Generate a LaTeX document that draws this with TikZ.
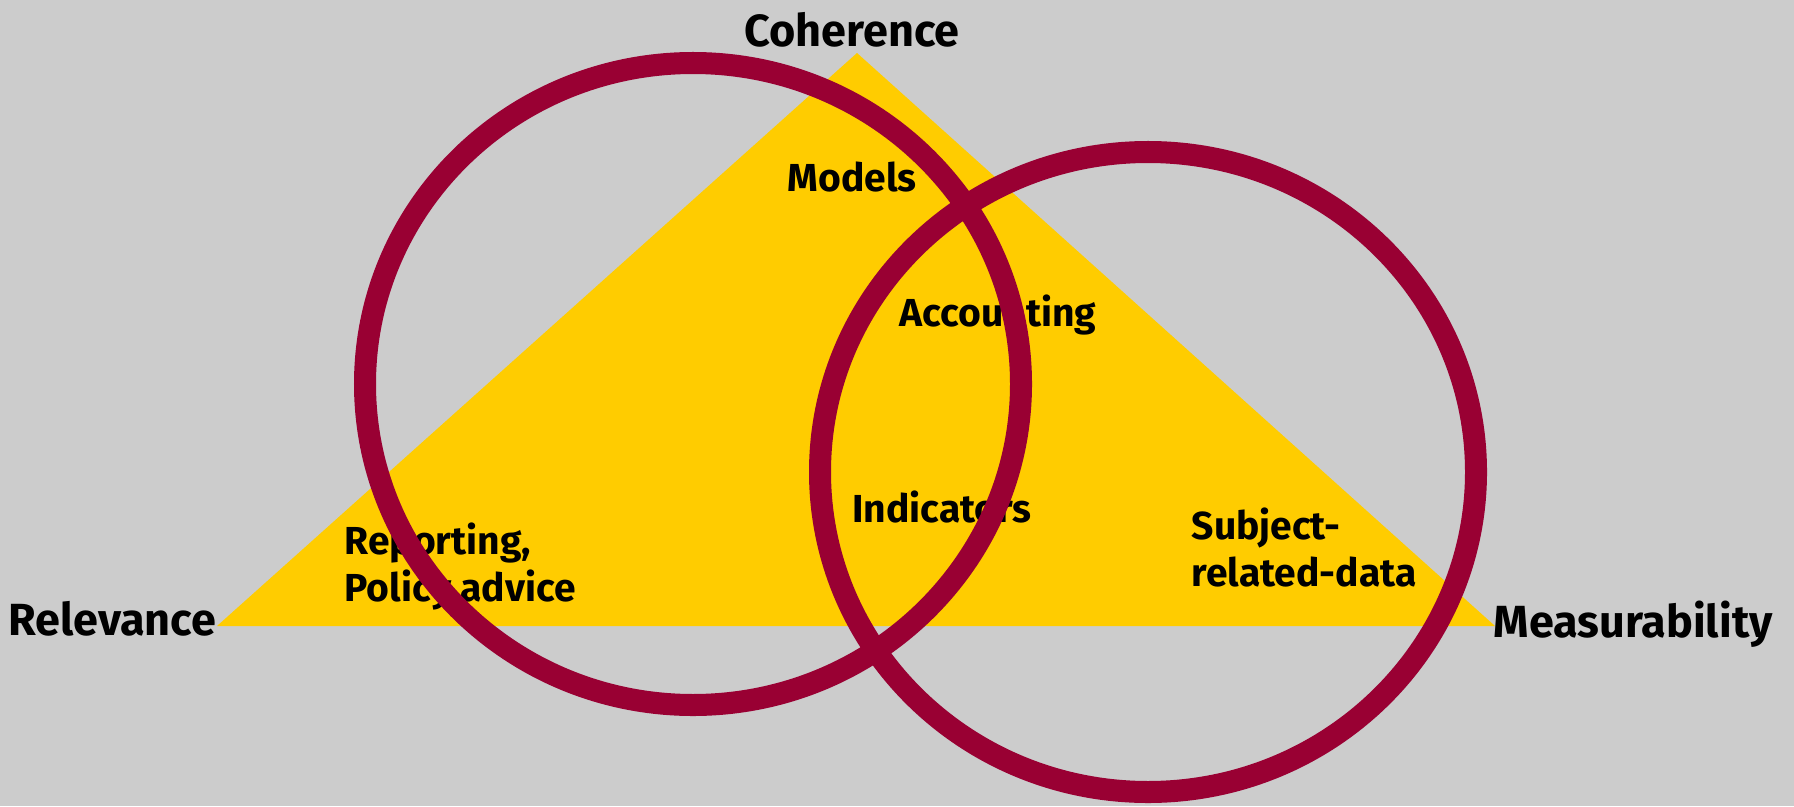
\documentclass[tikz,border=0pt]{standalone}
\usepackage{fontspec}
\setmainfont{Fira Sans}
\definecolor{paper}{HTML}{CCCCCC}
\definecolor{triyellow}{HTML}{FFCC00}
\definecolor{ringred}{HTML}{990033}
\tikzset{
  corner/.style={font=\fontsize{12.8}{15}\selectfont\bfseries, inner sep=0pt},
  field/.style={font=\fontsize{11.1}{13.3}\selectfont\bfseries, inner sep=0pt, align=left},
  ring/.style={draw=ringred, line width=0.22cm}
}

\begin{document}
\begin{tikzpicture}[x=0.01cm,y=-0.01cm]
        \fill[paper] (0,0) rectangle (1794,806);
        \useasboundingbox (0,0) rectangle (1794,806);

        % trojúhelník
        \fill[triyellow] (217,626) coordinate (R)
        -- (857,53) coordinate (C)
        -- (1495,626) coordinate (M)
        -- cycle;

        \node[corner, anchor=base east] (relevance) at (217,635) {Relevance};
        \node[corner, anchor=base] (coherence) at (852,46) {Coherence};
        \node[corner, anchor=base west] (measurability) at (1493,637) {Measurability};

        % pole
        \node[field, anchor=base] (models) at (852,191) {Models};
        \node[field, anchor=base] (accounting) at (998,326) {Accounting};
        \node[field, anchor=base] (indicators) at (942,522) {Indicators};
        \node[field, anchor=base west] (reporting) at (344,601) {Reporting,\\Policy advice};
        \node[field, anchor=base west] (subject) at (1191,586) {Subject-\\related-data};

        % kruhy
        \draw[ring] (693,384) coordinate (L) ellipse [x radius=328, y radius=321];
        \draw[ring] (1148,472) coordinate (Q) ellipse [x radius=328, y radius=320];
    \end{tikzpicture}
\end{document}
